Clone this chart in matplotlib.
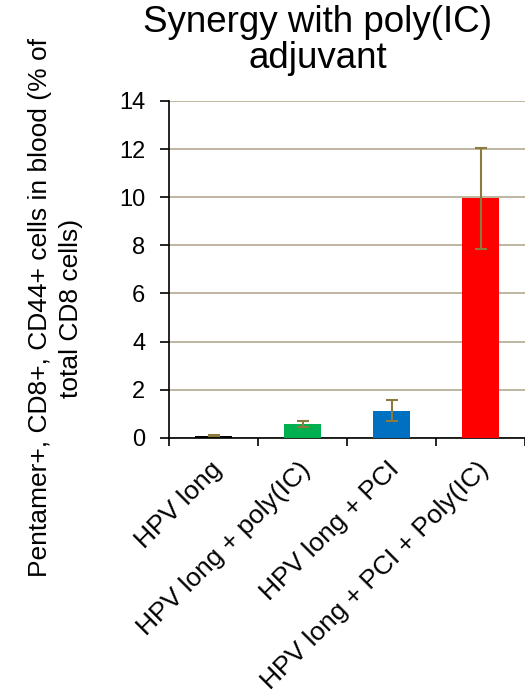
import matplotlib
matplotlib.use("Agg")
import matplotlib.pyplot as plt
import matplotlib.transforms as mtransforms
import numpy as np

plt.rcParams['font.family'] = ['Liberation Sans', 'DejaVu Sans']

categories = ["HPV long", "HPV long + poly(IC)", "HPV long + PCI", "HPV long + PCI + Poly(IC)"]
values = [0.08, 0.58, 1.12, 9.95]
errors = [0.02, 0.13, 0.43, 2.1]
colors = ["#000000", "#00B050", "#0070C0", "#FF0000"]
yticks = [0, 2, 4, 6, 8, 10, 12, 14]

fig = plt.figure(figsize=(5.25, 6.96), dpi=100)
ax = fig.add_axes([0.322, 0.371, 0.678, 0.484])

x = np.arange(len(categories))
ax.bar(x, values, width=0.42, color=colors, zorder=3)
ax.errorbar(x, values, yerr=errors, fmt='none', ecolor='#8B7B3E',
            elinewidth=1.5, capsize=4.5, capthick=1.5, zorder=4)

ax.set_xlim(-0.5, len(categories) - 0.5)
ax.set_ylim(0, 14)
ax.set_yticks(yticks)
ax.yaxis.grid(True, color='#B3A98F', linewidth=1.2, zorder=0)
ax.set_axisbelow(True)

for s in ['top', 'right']:
    ax.spines[s].set_visible(False)
ax.spines['left'].set_linewidth(1.2)
ax.spines['bottom'].set_linewidth(1.2)

ax.tick_params(axis='y', labelsize=17, length=6.5, width=1.2, direction='out', pad=10.5)
ax.set_xticks(x)
ax.set_xticklabels(categories, rotation=45, ha='right', va='top',
                   rotation_mode='anchor', fontsize=19)
ax.tick_params(axis='x', length=0, pad=14)
ax.set_xticks(np.arange(len(categories) + 1) - 0.5, minor=True)
ax.tick_params(axis='x', which='minor', length=6, width=1.2, direction='out')

# nudge the slanted category labels slightly to the left
shift = mtransforms.ScaledTranslation(-3 / 72, 0, fig.dpi_scale_trans)
for lbl in ax.get_xticklabels():
    lbl.set_transform(lbl.get_transform() + shift)

# two-line title, each line placed on its own baseline
fig.text(0.605, 1 - 32 / 696, "Synergy with poly(IC)", ha='center', va='baseline', fontsize=26.5)
fig.text(0.605, 1 - 68 / 696, "adjuvant", ha='center', va='baseline', fontsize=26.5)

fig.text(0.105, 0.5575, "Pentamer+, CD8+, CD44+ cells in blood (% of\ntotal CD8 cells)",
         rotation=90, ha='center', va='center', fontsize=19, linespacing=1.38)

fig.savefig("out.png", dpi=100)
